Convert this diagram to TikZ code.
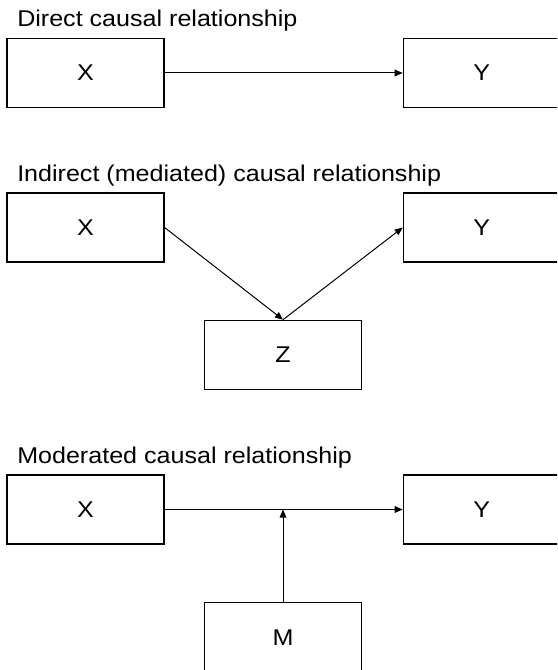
\documentclass[tikz,border=0pt]{standalone}
\usepackage{fontspec}
\setmainfont[FakeStretch=1.1]{Liberation Sans}
\usetikzlibrary{arrows.meta}
\begin{document}
\begin{tikzpicture}[x=0.75pt,y=-0.75pt,
  box/.style={draw=black,line width=0.9pt,minimum width=117.75pt,minimum height=51.75pt,inner sep=0pt,font=\fontsize{17.1}{20}\selectfont},
  ttl/.style={anchor=base west,inner sep=0pt,font=\fontsize{17.1}{20}\selectfont},
  arr/.style={draw=black,line width=0.75pt,-{Triangle[length=6pt,width=5pt]}},
  ln/.style={draw=black,line width=0.75pt}]
\useasboundingbox (0,0) rectangle (557,670);
\clip (0,0) rectangle (557,670);
% Section 1
\node[ttl] (t1) at (17,26.7) {Direct causal relationship};
\node[box] (x1) at (85.5,73) {X};
\node[box] (y1) at (481.8,73) {Y};
\draw[arr] (x1.east) -- (y1.west);
% Section 2
\node[ttl] (t2) at (17,181.7) {Indirect (mediated) causal relationship};
\node[box] (x2) at (85.5,227.5) {X};
\node[box] (y2) at (481.8,227.5) {Y};
\node[box] (z) at (283,354.8) {Z};
\draw[arr] (x2.east) -- (z.north);
\draw[arr] (z.north) -- (y2.west);
% Section 3
\node[ttl] (t3) at (17,463.5) {Moderated causal relationship};
\node[box] (x3) at (85.5,509.5) {X};
\node[box] (y3) at (481.8,509.5) {Y};
\node[box] (m) at (283,637.2) {M};
\draw[arr] (x3.east) -- (y3.west);
\coordinate (j) at (m.north |- x3.east);
\draw[arr] (m.north) -- (j);
\end{tikzpicture}
\end{document}
